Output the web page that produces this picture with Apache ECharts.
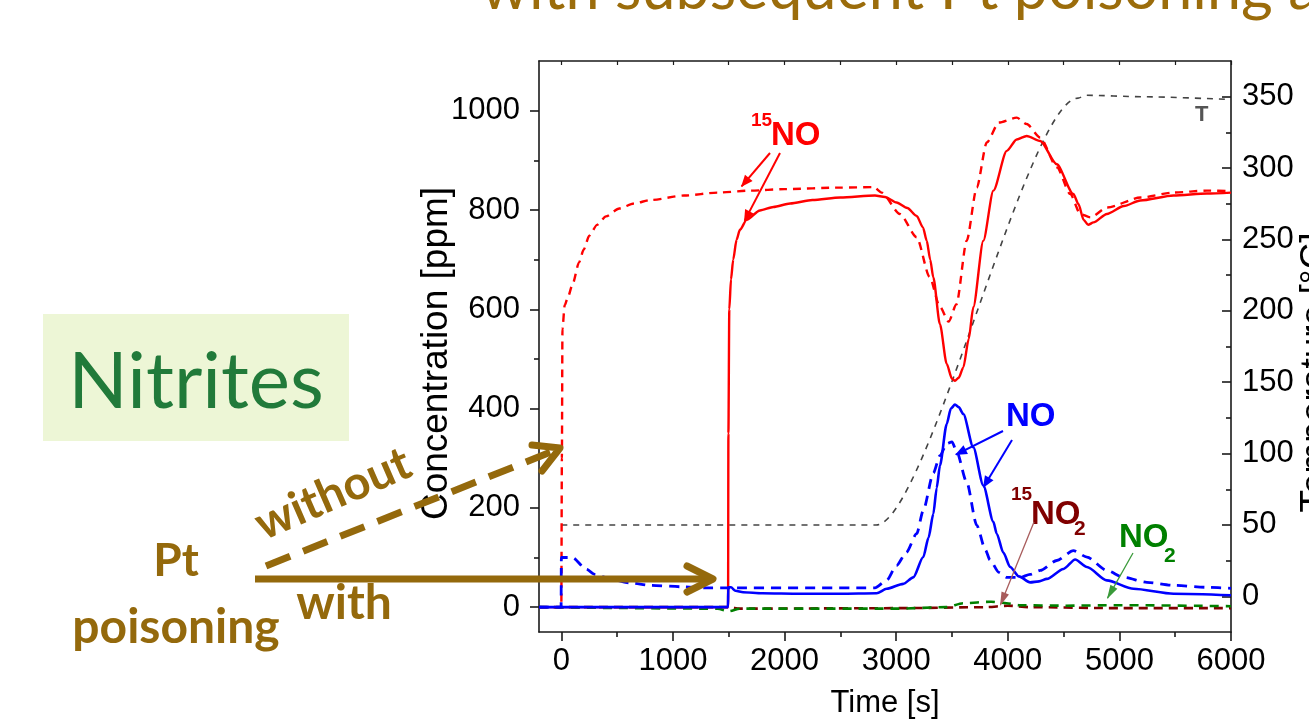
<!DOCTYPE html>
<html><head><meta charset="utf-8">
<script src="https://cdn.jsdelivr.net/npm/echarts@6/dist/echarts.min.js"></script>
<style>html,body{margin:0;padding:0;background:#fff}#c{width:1309px;height:721px}</style>
</head><body><div id="c"></div>
<script>
// ---- tick labels ----
const xTicks = [0,1000,2000,3000,4000,5000,6000];
const xMinorTicks = [500,1500,2500,3500,4500,5500];
const xTopTicks = [0,500,1000,1500,2000,2500,3000,3500,4000,4500,5000,5500,6000];
const yTicks = [0,200,400,600,800,1000];
const yMinorTicks = [100,300,500,700,900];
const tTicks = [0,50,100,150,200,250,300,350];
const tMinorTicks = [25,75,125,175,225,275,325];

// ---- series values [time s, value] ----
const no15Without = [[-200,0],[0,0],[5,300],[10,560],[30,608],[60,625],[100,650],[160,695],[200,720],[250,748],[320,770],[400,787],[520,803],[650,813],[800,820],[1100,829],[1400,835],[1700,839],[2000,842],[2500,845],[2800,846],[2870,835],[3034,792],[3184,745],[3300,665],[3390,606],[3470,575],[3540,610],[3632,738],[3722,845],[3812,936],[3920,976],[4080,986],[4170,973],[4290,946],[4440,886],[4560,832],[4650,792],[4740,785],[4890,805],[5190,825],[5485,835],[5785,839],[6000,838]];
const no15With = [[-200,0],[1494,0],[1497,350],[1505,600],[1520,660],[1540,700],[1570,740],[1600,760],[1660,780],[1780,799],[1900,806],[2050,813],[2250,820],[2500,825],[2810,829],[2900,826],[3004,815],[3100,804],[3184,788],[3240,765],[3274,738],[3305,700],[3333,664],[3392,570],[3453,490],[3500,460],[3527,456],[3560,462],[3602,483],[3650,540],[3691,604],[3781,738],[3871,839],[3991,919],[4080,942],[4170,949],[4291,939],[4439,892],[4588,832],[4633,812],[4680,780],[4720,770],[4768,775],[4888,792],[5040,808],[5187,819],[5485,829],[5785,833],[6000,835]];
const noWithout = [[-200,0],[-2,0],[0,100],[100,100],[225,76],[300,66],[450,56],[613,49],[800,44],[1091,41],[1300,39],[1500,39],[2810,39],[2915,54],[3004,84],[3090,110],[3184,148],[3243,195],[3333,270],[3392,305],[3453,329],[3500,333],[3540,315],[3632,252],[3722,165],[3800,115],[3841,95],[3920,70],[3991,60],[4111,60],[4200,66],[4291,74],[4439,94],[4588,114],[4709,101],[4888,74],[5037,60],[5247,50],[5485,44],[5785,40],[6000,38]];
const noWith = [[-200,0],[1493,0],[1496,40],[1520,40],[1560,33],[1629,30],[1800,28],[2137,27],[2500,27],[2825,28],[2915,37],[3064,47],[3153,60],[3243,101],[3290,140],[3333,188],[3363,240],[3392,285],[3453,369],[3490,400],[3527,408],[3560,403],[3602,389],[3691,322],[3781,245],[3871,172],[3901,148],[3960,110],[4021,81],[4100,62],[4200,50],[4280,52],[4350,57],[4499,77],[4604,96],[4709,81],[4888,54],[5126,37],[5485,27],[6000,24]];
const no2_15 = [[-200,0],[1500,0],[1600,-3],[3000,-2],[3800,0],[4000,3],[4200,0],[5000,-2],[6000,-2]];
const no2 = [[-200,0],[1400,-3],[1500,-8],[1600,-3],[3000,-3],[3450,0],[3600,8],[3850,11],[3990,8],[4100,4],[4500,3],[5000,4],[6000,2]];
const temperature = [[0,50],[2820,50],[4630,349],[4700,351],[5200,350],[6000,348]];

const brown = '#94690C';
const chart = echarts.init(document.getElementById('c'));
const AX = '#1a1a1a';
const FF = '"Liberation Sans", Arial, sans-serif';
const labelFont = {fontFamily:FF, fontSize:31, color:'#000', formatter:(v)=>String(v)};

function head(x1,y1,x2,y2,len,w,color){
  const dx=x2-x1, dy=y2-y1, L=Math.hypot(dx,dy), ux=dx/L, uy=dy/L;
  const bx=x2-ux*len, by=y2-uy*len;
  return {type:'polygon', shape:{points:[[x2,y2],[bx-uy*w,by+ux*w],[bx+uy*w,by-ux*w]]}, style:{fill:color}, z:100};
}
function arrowLine(x1,y1,x2,y2,color,lw,len,w){
  return [{type:'line', shape:{x1,y1,x2:x2-(x2-x1)*0.02,y2:y2-(y2-y1)*0.02}, style:{stroke:color,lineWidth:lw}, z:100}, head(x1,y1,x2,y2,len,w,color)];
}
function txt(x,y,text,font,fill,align,extra){
  return Object.assign({type:'text', x, y, z:100, style:{text, font, fill, align:align||'left', textAlign:align||'left', verticalAlign:'middle', textVerticalAlign:'middle'}}, extra||{});
}
const B = 'bold 33px ' + FF;
const Bs = 'bold 19px ' + FF;
const LB = (s)=>'bold ' + s + 'px Lato, "Open Sans", sans-serif';

const graphics = [
  txt(481, -11, 'with subsequent Pt poisoning at', 'normal 61px Lato, "Open Sans", sans-serif', '#9B6C0B', 'left'),
  {type:'rect', shape:{x:43,y:314,width:306,height:127}, style:{fill:'#EDF6D6'}, z:1},
  txt(196, 383, 'Nitrites', 'normal 78px Lato, "Open Sans", sans-serif', '#217A3A', 'center'),
  txt(176, 561, 'Pt', LB(46), brown, 'center'),
  txt(176, 628, 'poisoning', LB(48), brown, 'center'),
  txt(344, 604, 'with', LB(48), brown, 'center'),
  txt(333, 494, 'without', LB(47), brown, 'center', {rotation:0.41}),
  {type:'line', shape:{x1:255,y1:579,x2:710,y2:579}, style:{stroke:brown,lineWidth:7}, z:100},
  {type:'polyline', shape:{points:[[687,566],[713,579],[687,592]]}, style:{stroke:brown,lineWidth:7,lineCap:'round',lineJoin:'round',fill:null}, z:100},
  {type:'line', shape:{x1:266,y1:566,x2:556,y2:450}, style:{stroke:brown,lineWidth:7,lineDash:[26,14]}, z:100},
  {type:'polyline', shape:{points:[[532,445],[560,448],[542,471]]}, style:{stroke:brown,lineWidth:7,lineCap:'round',lineJoin:'round',fill:null}, z:100},
  // 15NO label
  txt(751, 121, '15', Bs, '#FF0000'),
  txt(771, 136, 'NO', B, '#FF0000'),
  ...arrowLine(770,153,741,187,'#FF0000',2,12,5),
  ...arrowLine(780,153,744,222,'#FF0000',2,12,5),
  // NO label
  txt(1006, 417, 'NO', B, '#0000FF'),
  ...arrowLine(1003,431,955,455,'#0000FF',2,12,5),
  ...arrowLine(1012,440,983,488,'#0000FF',2,12,5),
  // 15NO2 label
  txt(1011, 495, '15', Bs, '#800000'),
  txt(1031, 515, 'NO', B, '#800000'),
  txt(1074, 529, '2', 'bold 21px ' + FF, '#800000'),
  ...arrowLine(1034,522,1000,606,'#A85C5C',1.3,14,4),
  // NO2 label
  txt(1119, 538, 'NO', B, '#008000'),
  txt(1164, 556, '2', 'bold 21px ' + FF, '#008000'),
  ...arrowLine(1133,553,1107,599,'#3A9A3A',1.3,14,4),
  // T label
  txt(1195, 115, 'T', 'bold 22px ' + FF, '#555555')
];

function lineSeries(name, data, color, dashed, width, yIdx, dash){
  return {name, type:'line', data, xAxisIndex:0, yAxisIndex:yIdx||0, showSymbol:false, symbol:'none',
    smooth:0.25, smoothMonotone:'x', animation:false,
    lineStyle:{color, width, type: dashed ? (dash||[8,5]) : 'solid'}, z: 5};
}
const nameStyle = {fontFamily:FF, fontSize:31, color:'#000'};

const option = {
  animation:false,
  grid:{left:539, right:78, top:61, bottom:89, containLabel:false, outerBoundsMode:'none'},
  xAxis:[
    {type:'value', position:'bottom', min:-200, max:6000,
     axisLine:{show:true, onZero:false, lineStyle:{color:AX,width:1.6}},
     axisTick:{show:true, inside:false, length:9, customValues:xTicks, lineStyle:{color:AX,width:1.6}},
     axisLabel:{show:true, customValues:xTicks, margin:14, ...labelFont},
     splitLine:{show:false},
     name:'Time [s]', nameLocation:'middle', nameGap:56, nameMoveOverlap:false, nameTextStyle:nameStyle},
    {type:'value', position:'bottom', min:-200, max:6000,
     axisLine:{show:false, onZero:false}, axisTick:{show:true, length:5, customValues:xMinorTicks, lineStyle:{color:AX,width:1.6}},
     axisLabel:{show:false}, splitLine:{show:false}},
    {type:'value', position:'top', min:-200, max:6000,
     axisLine:{show:true, onZero:false, lineStyle:{color:AX,width:1.6}},
     axisTick:{show:true, inside:true, length:4, customValues:xTopTicks, lineStyle:{color:AX,width:1.2}},
     axisLabel:{show:false}, splitLine:{show:false}}
  ],
  yAxis:[
    {type:'value', position:'left', min:-50, max:1100,
     axisLine:{show:true, onZero:false, lineStyle:{color:AX,width:1.6}},
     axisTick:{show:true, inside:false, length:9, customValues:yTicks, lineStyle:{color:AX,width:1.6}},
     axisLabel:{show:true, customValues:yTicks, margin:19, ...labelFont},
     splitLine:{show:false},
     name:'Concentration [ppm]', nameLocation:'middle', nameGap:84, nameRotate:90, nameMoveOverlap:false,
     nameTextStyle:{fontFamily:FF, fontSize:37, color:'#000', padding:[0,14,0,0]}},
    {type:'value', position:'right', min:-25, max:375,
     axisLine:{show:true, onZero:false, lineStyle:{color:AX,width:1.6}},
     axisTick:{show:true, inside:true, length:9, customValues:tTicks, lineStyle:{color:AX,width:1.6}},
     axisLabel:{show:true, customValues:tTicks, margin:11, ...labelFont},
     splitLine:{show:false},
     name:'Temperature [°C]', nameLocation:'middle', nameGap:66, nameRotate:90, nameMoveOverlap:false,
     nameTextStyle:{fontFamily:FF, fontSize:37, color:'#000', padding:[0,52,0,0]}},
    {type:'value', position:'left', min:-50, max:1100,
     axisLine:{show:false, onZero:false}, axisTick:{show:true, length:5, customValues:yMinorTicks, lineStyle:{color:AX,width:1.6}},
     axisLabel:{show:false}, splitLine:{show:false}},
    {type:'value', position:'right', min:-25, max:375,
     axisLine:{show:false, onZero:false}, axisTick:{show:true, inside:true, length:5, customValues:tMinorTicks, lineStyle:{color:AX,width:1.6}},
     axisLabel:{show:false}, splitLine:{show:false}}
  ],
  series:[
    lineSeries('T', temperature, '#444444', true, 1.6, 1, [6,6]),
    lineSeries('15NO2', no2_15, '#800000', true, 2.6, 0, [9,6]),
    lineSeries('NO2', no2, '#008000', true, 2.6, 0, [9,7]),
    lineSeries('15NO without', no15Without, '#FF0000', true, 2.4, 0, [8,6]),
    lineSeries('15NO with', no15With, '#FF0000', false, 2.4, 0),
    lineSeries('NO without', noWithout, '#0000FF', true, 2.8, 0, [10,7]),
    lineSeries('NO with', noWith, '#0000FF', false, 2.6, 0)
  ],
  graphic: graphics
};
chart.setOption(option);
</script></body></html>
